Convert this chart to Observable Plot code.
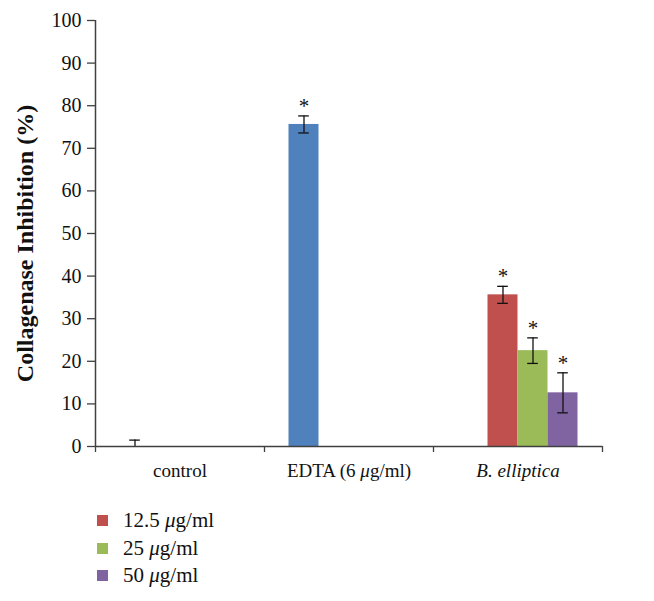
<!DOCTYPE html>
<html><head><meta charset="utf-8">
<script src="https://cdn.jsdelivr.net/npm/d3@7"></script>
<script src="https://cdn.jsdelivr.net/npm/@observablehq/plot@0.6"></script>
<style>
body{margin:0;background:#fff;font-family:"Liberation Serif",serif;}
#legend{margin-left:97px;margin-top:12px;font-size:21px;color:#111;}
#legend .row{height:27.5px;display:flex;align-items:center;}
#legend .sw{width:11px;height:11px;margin-right:15px;}
</style></head><body><div id="chart"></div><div id="legend"></div>
<script>
const categories = ["control", "EDTA (6 μg/ml)", "B. elliptica"];
const seriesNames = ["treatment", "12.5 μg/ml", "25 μg/ml", "50 μg/ml"];
const seriesColors = ["#4F81BD", "#C0504D", "#9BBB59", "#8064A2"];
const legendNames = ["12.5 μg/ml", "25 μg/ml", "50 μg/ml"];
const barCategory = ["control", "EDTA (6 μg/ml)", "B. elliptica", "B. elliptica", "B. elliptica"];
const barSeries = ["treatment", "treatment", "12.5 μg/ml", "25 μg/ml", "50 μg/ml"];
const barValue = [0, 75.6, 35.6, 22.5, 12.6];
const barError = [1.5, 2.0, 2.0, 3.0, 4.7];
const barStar = [false, true, true, true, true];
const yTicks = d3.range(0, 101, 10);
const yLabel = "Collagenase Inhibition (%)";

const W = 654, marginLeft = 95, marginRight = 52;
const bandPx = (W - marginLeft - marginRight) / categories.length;
const barW = 30 / bandPx;      // bar width in category units
const capHalf = 5.3 / bandPx;  // error cap half-width

const data = barValue.map((v, i) => {
  const ci = categories.indexOf(barCategory[i]);
  const si = seriesNames.indexOf(barSeries[i]);
  const xc = ci + 0.5 + (si - 1.5) * barW;
  return {series: barSeries[i], value: v, err: barError[i], star: barStar[i],
          xc, x1: xc - barW / 2, x2: xc + barW / 2, lo: v - barError[i], hi: v + barError[i]};
});

const axisColor = "#404040";
const chart = Plot.plot({
  width: W, height: 495,
  marginLeft, marginRight, marginTop: 20, marginBottom: 49,
  style: {fontFamily: "Liberation Serif, serif", fontSize: "19px", color: "#111", background: "#fff"},
  x: {domain: [0, categories.length], axis: null},
  y: {domain: [0, 100], axis: null},
  color: {domain: seriesNames, range: seriesColors},
  marks: [
    Plot.rect(data, {x1: "x1", x2: "x2", y1: 0, y2: "value", fill: "series"}),
    Plot.ruleX(data, {x: "xc", y1: "lo", y2: "hi", stroke: "#111", strokeWidth: 1.3, clip: true}),
    Plot.ruleY(data, {y: "hi", x1: d => d.xc - capHalf, x2: d => d.xc + capHalf, stroke: "#111", strokeWidth: 1.3}),
    Plot.ruleY(data.filter(d => d.lo > 0), {y: "lo", x1: d => d.xc - capHalf, x2: d => d.xc + capHalf, stroke: "#111", strokeWidth: 1.3}),
    Plot.text(data.filter(d => d.star), {x: "xc", y: "hi", text: () => "*", dy: -10, fontSize: 21}),
    Plot.ruleX([0], {stroke: axisColor, strokeWidth: 1.5}),
    Plot.ruleY([0], {stroke: axisColor, strokeWidth: 1.5}),
    Plot.axisY({ticks: yTicks, tickSize: 8, tickPadding: 6, label: null, stroke: axisColor, strokeWidth: 1.3, fontSize: 20, ariaLabel: "yticks"}),
    Plot.axisX({ticks: d3.range(0, categories.length + 1), tickSize: 6, tickFormat: () => "", label: null, stroke: axisColor, strokeWidth: 1.3}),
    Plot.axisX({ticks: categories.map((c, i) => i + 0.5), tickSize: 0, tickPadding: 17, tickFormat: t => categories[Math.floor(t)], label: null, fontSize: 19}),
    Plot.text([yLabel], {frameAnchor: "left", textAnchor: "middle", lineAnchor: "middle", dx: -70, dy: 10, rotate: -90, fontWeight: "bold", fontSize: 24, text: d => d})
  ]
});
document.getElementById("chart").appendChild(chart);

// y tick label size
chart.querySelectorAll("text").forEach(t => {
  if (/^\d+$/.test(t.textContent)) t.style.fontSize = "20px";
});

// italic styling on category labels
chart.querySelectorAll("text").forEach(t => {
  const s = t.textContent;
  if (s === "B. elliptica") t.setAttribute("font-style", "italic");
  if (s.includes("μ")) {
    const parts = s.split("μ");
    t.textContent = "";
    parts.forEach((p, i) => {
      if (i > 0) { const m = document.createElementNS("http://www.w3.org/2000/svg", "tspan"); m.setAttribute("font-style", "italic"); m.textContent = "μ"; t.appendChild(m); }
      const n = document.createElementNS("http://www.w3.org/2000/svg", "tspan"); n.textContent = p; t.appendChild(n);
    });
  }
});

const legend = document.getElementById("legend");
legendNames.forEach(name => {
  const row = document.createElement("div"); row.className = "row";
  const sw = document.createElement("div"); sw.className = "sw";
  sw.style.background = seriesColors[seriesNames.indexOf(name)];
  const lab = document.createElement("span");
  lab.innerHTML = name.replace("μ", "<i>μ</i>");
  row.appendChild(sw); row.appendChild(lab); legend.appendChild(row);
});
</script></body></html>
